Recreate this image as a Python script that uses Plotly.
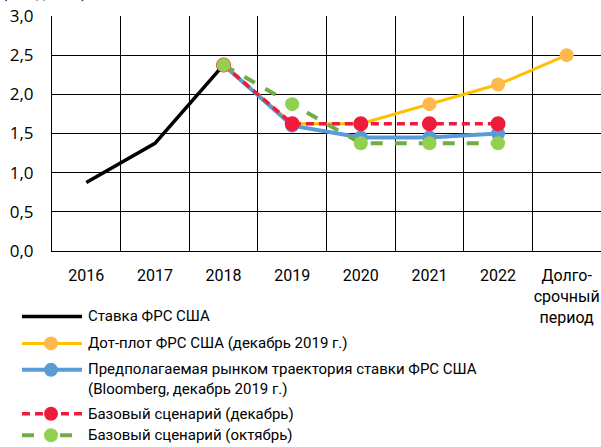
import plotly.graph_objects as go

categories = ["2016", "2017", "2018", "2019", "2020", "2021", "2022", "Долго-<br>срочный<br>период"]
fed_rate = [0.875, 1.375, 2.375, None, None, None, None, None]
dot_plot = [None, None, 2.375, 1.625, 1.625, 1.875, 2.125, 2.5]
market_path = [None, None, 2.375, 1.6, 1.45, 1.45, 1.5, None]
base_dec = [None, None, 2.375, 1.625, 1.625, 1.625, 1.625, None]
base_oct = [None, None, 2.375, 1.875, 1.375, 1.375, 1.375, None]
legend_names = [
    "Ставка ФРС США",
    "Дот-плот ФРС США (декабрь 2019 г.)",
    "Предполагаемая рынком траектория ставки ФРС США<br>(Bloomberg, декабрь 2019 г.)",
    "Базовый сценарий (декабрь)",
    "Базовый сценарий (октябрь)",
]

FONT = "Roboto"
fig = go.Figure()
fig.add_trace(go.Scatter(x=categories, y=fed_rate, mode="lines",
                         line=dict(color="#000000", width=3.5)))
fig.add_trace(go.Scatter(x=categories, y=dot_plot, mode="lines+markers",
                         line=dict(color="#FFC000", width=3),
                         marker=dict(color="#FFB84D", size=14)))
fig.add_trace(go.Scatter(x=categories, y=market_path, mode="lines+markers",
                         line=dict(color="#5B9BD5", width=4),
                         marker=dict(color="#5B9BD5", size=14)))
fig.add_trace(go.Scatter(x=categories, y=base_dec, mode="lines+markers",
                         line=dict(color="#EE1B3C", width=3.5, dash="8px,5px"),
                         marker=dict(color="#EE1B3C", size=15)))
fig.add_trace(go.Scatter(x=categories, y=base_oct, mode="lines+markers",
                         line=dict(color="#70AD47", width=4, dash="12px,12px"),
                         marker=dict(color="#92D050", size=14)))

# manual legend
W, H, L, T = 549.0, 235.3, 52.0, 251.0
def px(x):
    return (x - L) / W
def py(y):
    return (T - y) / H

rows = [
    (316.5, "#000000", 3.5, "solid", None),
    (343.5, "#FFC000", 3, "solid", "#FFB84D"),
    (370.0, "#5B9BD5", 4, "solid", "#5B9BD5"),
    (414.0, "#EE1B3C", 3.5, "8px,5px", "#EE1B3C"),
    (435.5, "#70AD47", 4, "12px,26px", "#92D050"),
]
shapes = []
annotations = []
text_y = [316.5, 343.5, 379.0, 414.0, 435.5]
for i, (yy, col, w, dash, mcol) in enumerate(rows):
    shapes.append(dict(type="line", xref="paper", yref="paper",
                       x0=px(22), x1=px(82), y0=py(yy), y1=py(yy),
                       line=dict(color=col, width=w, dash=dash)))
    if mcol:
        shapes.append(dict(type="circle", xref="paper", yref="paper",
                           xsizemode="pixel", ysizemode="pixel",
                           xanchor=px(51), yanchor=py(yy),
                           x0=-7, x1=7, y0=-7, y1=7,
                           fillcolor=mcol, line=dict(width=0)))
    annotations.append(dict(text=legend_names[i], xref="paper", yref="paper",
                            x=px(86), y=py(text_y[i]), xanchor="left", yanchor="middle",
                            align="left", showarrow=False,
                            font=dict(family=FONT, size=15, color="#000000")))

annotations.append(dict(text="(% годовых)", xref="paper", yref="paper",
                        x=px(0), y=py(4), xanchor="left", yanchor="bottom",
                        showarrow=False, font=dict(family=FONT, size=15, color="#000000")))

fig.update_layout(
    width=601, height=447,
    margin=dict(l=52, r=0, t=16, b=196),
    paper_bgcolor="white", plot_bgcolor="white",
    showlegend=False,
    separators=", ",
    font=dict(family=FONT, size=15, color="#000000"),
    shapes=shapes, annotations=annotations,
)
fig.update_xaxes(type="category", tickson="boundaries", showgrid=True,
                 gridcolor="#000000", gridwidth=1, showline=True, linecolor="#000000",
                 linewidth=1, ticks="", ticklabelstandoff=10, tickangle=0,
                 automargin=False,
                 tickfont=dict(family=FONT, size=16), range=[-0.5, 7.5])
fig.update_yaxes(range=[0, 3], dtick=0.5, tickformat=".1f", showgrid=True,
                 gridcolor="#000000", gridwidth=1, showline=True, linecolor="#000000",
                 linewidth=1, ticks="", ticklabelstandoff=14, zeroline=False,
                 automargin=False,
                 tickfont=dict(family="Open Sans", size=17))
fig.write_html("out.html", config={"displayModeBar": False},
               post_script="document.body.style.margin='0';document.body.style.overflow='hidden';")
